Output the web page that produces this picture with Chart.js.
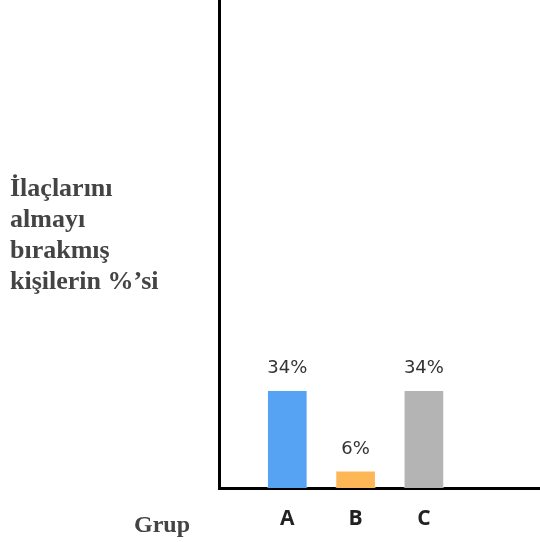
<!DOCTYPE html>
<html>
<head>
<meta charset="utf-8">
<script src="https://cdn.jsdelivr.net/npm/chart.js@4"></script>
<style>
  html, body { margin: 0; padding: 0; background: #fff; }
  #wrap { position: relative; width: 540px; height: 542px; }
</style>
</head>
<body>
<div id="wrap"><canvas id="c" width="540" height="542"></canvas></div>
<script>
// Groups and the share of people who stopped their medication
const groups = ['A', 'B', 'C'];
const percents = [34, 6, 34];
const barColors = ['#55A3F2', '#FDB756', '#B4B4B4'];
const yTitleLines = ['İlaçlarını', 'almayı', 'bırakmış', 'kişilerin %’si'];
const xTitle = 'Grup';

// Horizontal axis titles and value labels above the bars
const annotate = {
  id: 'annotate',
  afterDatasetsDraw(chart) {
    const ctx = chart.ctx;
    const meta = chart.getDatasetMeta(0);
    ctx.save();
    ctx.fillStyle = '#333';
    ctx.font = '18px "DejaVu Sans", sans-serif';
    ctx.textAlign = 'center';
    ctx.textBaseline = 'alphabetic';
    meta.data.forEach((bar, i) => {
      ctx.fillText(percents[i] + '%', bar.x, bar.y - 17);
    });
    ctx.fillStyle = '#444';
    ctx.font = 'bold 26px "Liberation Serif", serif';
    ctx.textAlign = 'left';
    yTitleLines.forEach((line, i) => {
      ctx.fillText(line, 10, 196 + i * 31);
    });
    ctx.font = 'bold 24px "Liberation Serif", serif';
    ctx.fillText(xTitle, 134, 532);
    ctx.restore();
  }
};

new Chart(document.getElementById('c'), {
  type: 'bar',
  data: {
    datasets: [{
      data: groups.map((g, i) => ({ x: i + 1, y: percents[i] })),
      backgroundColor: barColors,
      borderColor: 'rgba(255,255,255,0.35)',
      borderWidth: 1,
      barThickness: 40
    }]
  },
  options: {
    responsive: false,
    animation: false,
    events: [],
    layout: { padding: { left: 219, top: 0, right: 0, bottom: 0 } },
    plugins: { legend: { display: false }, tooltip: { enabled: false } },
    scales: {
      x: {
        type: 'linear',
        offset: false,
        min: 0,
        max: 4.7,
        grid: { display: false, drawTicks: false },
        border: { display: true, color: '#000', width: 3 },
        afterBuildTicks(axis) {
          axis.ticks = groups.map((g, i) => ({ value: i + 1 }));
        },
        afterFit(axis) {
          axis.height = 54;
        },
        ticks: {
          autoSkip: false,
          maxRotation: 0,
          padding: 18,
          color: '#222',
          font: { family: '"Open Sans", sans-serif', size: 21, weight: 'bold' },
          callback: (v) => groups[v - 1] ?? ''
        }
      },
      y: {
        min: 0,
        max: 170,
        grid: { display: false, drawTicks: false },
        border: { display: true, color: '#000', width: 3 },
        ticks: { display: false }
      }
    }
  },
  plugins: [annotate]
});
</script>
</body>
</html>
